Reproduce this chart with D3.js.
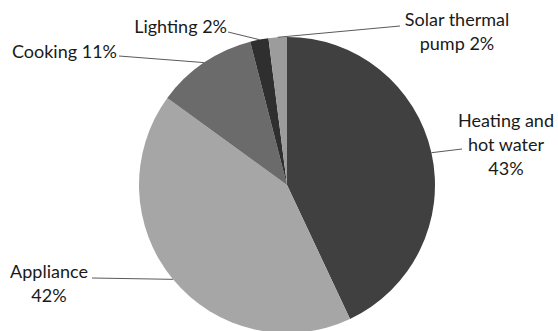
<!DOCTYPE html>
<html>
<head>
<meta charset="utf-8">
<script src="https://cdn.jsdelivr.net/npm/d3@7"></script>
<style>
  html, body { margin: 0; padding: 0; background: #fff; }
  svg { display: block; }
  text { font-family: Lato, "Open Sans", sans-serif; font-size: 18px; fill: #1a1a1a; }
</style>
</head>
<body>
<svg id="chart" width="558" height="331"></svg>
<script>
// Household energy use by end use (%)
const categories = ["Heating and hot water", "Appliance", "Cooking", "Lighting", "Solar thermal pump"];
const values = [43, 42, 11, 2, 2];
const colors = ["#404040", "#a6a6a6", "#6b6b6b", "#2f2f2f", "#9c9c9c"];

// Label text, split into lines
const labelLines = [
  ["Heating and", "hot water", "43%"],
  ["Appliance", "42%"],
  ["Cooking 11%"],
  ["Lighting 2%"],
  ["Solar thermal", "pump 2%"]
];

const W = 558, H = 331;
const cx = 287, cy = 185, R = 148;

// Label placement: anchor point, text anchor, first baseline, leader end point
const labelLayout = [
  { x: 506, y: 127, anchor: "middle", end: [462, 149] },
  { x: 49,  y: 278, anchor: "middle", end: [92, 278] },
  { x: 117, y: 58,  anchor: "end",    end: [119, 56] },
  { x: 227, y: 33,  anchor: "end",    end: [228, 32] },
  { x: 457, y: 26,  anchor: "middle", end: [400, 26] }
];
const lineGap = 24;

const svg = d3.select("#chart");
const g = svg.append("g").attr("transform", `translate(${cx},${cy})`);

const pie = d3.pie().sort(null).value(d => d)(values);
const arc = d3.arc().innerRadius(0).outerRadius(R);
const edge = d3.arc().innerRadius(R).outerRadius(R);

g.selectAll("path.slice")
  .data(pie)
  .join("path")
  .attr("class", "slice")
  .attr("d", arc)
  .attr("fill", (d, i) => colors[i]);

// Leader lines from each slice's outer edge to its label
g.selectAll("line.leader")
  .data(pie)
  .join("line")
  .attr("class", "leader")
  .attr("x1", d => edge.centroid(d)[0])
  .attr("y1", d => edge.centroid(d)[1])
  .attr("x2", (d, i) => labelLayout[i].end[0] - cx)
  .attr("y2", (d, i) => labelLayout[i].end[1] - cy)
  .attr("stroke", "#5a5a5a")
  .attr("stroke-width", 1);

const labels = svg.selectAll("text.label")
  .data(categories)
  .join("text")
  .attr("class", "label")
  .attr("text-anchor", (d, i) => labelLayout[i].anchor);

labels.each(function(d, i) {
  const L = labelLayout[i];
  d3.select(this).selectAll("tspan")
    .data(labelLines[i])
    .join("tspan")
    .attr("x", L.x)
    .attr("y", (t, j) => L.y + j * lineGap)
    .text(t => t);
});
</script>
</body>
</html>
